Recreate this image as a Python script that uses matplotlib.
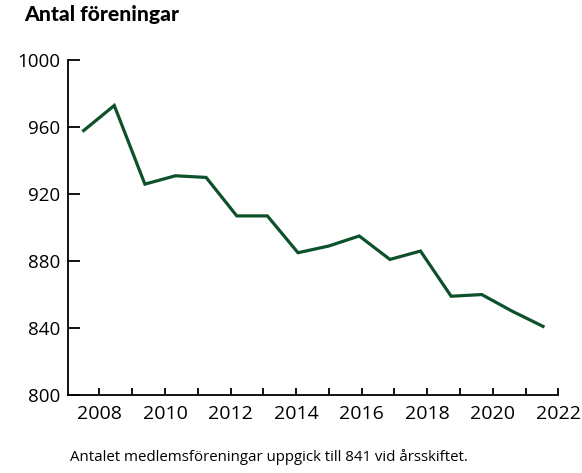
import numpy as np
import matplotlib
matplotlib.use('Agg')
import matplotlib.pyplot as plt

# Antal medlemsföreningar, en punkt per år
values = [958, 973, 926, 931, 930, 907, 907, 885, 889, 895, 881, 886, 859, 860, 850, 841]
year_ticks = list(range(2008, 2023))
year_labels = [str(y) if y % 2 == 0 else '' for y in year_ticks]
y_ticks = [800, 840, 880, 920, 960, 1000]

plt.rcParams['font.family'] = ['Open Sans', 'DejaVu Sans']

fig = plt.figure(figsize=(5.82, 4.73), dpi=100)
ax = fig.add_axes([0.1174, 0.165, 0.8419, 0.7075])

# data drawn on category positions, time scale on a twin axis
ax.plot(range(len(values)), values, color='#0c5129', lw=2.3, solid_joinstyle='miter')
ax.set_xlim(-0.5, len(values) - 0.5)
ax.set_ylim(800, 1000)
ax.set_xticks([])
ax.set_yticks(y_ticks)
ax.tick_params(axis='y', direction='in', length=8.5, width=1.3, pad=6, labelsize=13.5)
for s in ['top', 'right']:
    ax.spines[s].set_visible(False)
for s in ['left', 'bottom']:
    ax.spines[s].set_linewidth(1.3)

tx = ax.twiny()
tx.set_xlim(2007.05, 2022)
tx.xaxis.set_ticks_position('bottom')
tx.xaxis.set_label_position('bottom')
tx.set_xticks(year_ticks)
tx.set_xticklabels(year_labels)
tx.tick_params(axis='x', direction='in', length=5, width=1.3, pad=7, labelsize=14)
for s in tx.spines.values():
    s.set_visible(False)

fig.text(0.041, 0.956, 'Antal föreningar', fontsize=15.2, fontweight='black',
         family=['Lato', 'DejaVu Sans'], va='baseline')
fig.text(0.12, 0.034, 'Antalet medlemsföreningar uppgick till 841 vid årsskiftet.',
         fontsize=10.8, va='center')

fig.savefig('out.png', dpi=100)
